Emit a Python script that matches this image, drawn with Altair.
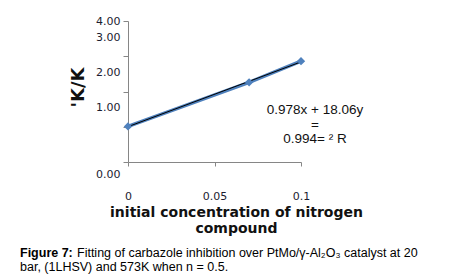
import altair as alt
import pandas as pd

# data
conc = [0.0, 0.07, 0.1]
ratio = [1.01, 2.26, 2.86]
y_ticks = [0, 1, 2, 3, 4]
x_ticks = [0, 0.05, 0.1]
x_title = ["initial concentration of nitrogen", "compound"]
y_title = "'K/K"
eq_text = "0.978x + 18.06y\n=\n0.994= \u00b2 R"
cap_bold = "Figure 7:"
cap_line1 = "Fitting of carbazole inhibition over PtMo/\u03b3-Al\u2082O\u2083 catalyst at 20"
cap_line2 = "bar, (1LHSV) and 573K when n = 0.5."

df = pd.DataFrame({"x": conc, "y": ratio})

BLUE = "#4f81bd"
LBL = "#1c1c30"

xs = alt.Scale(domain=[0, 0.1], nice=False, zero=False)
ys = alt.Scale(domain=[0, 4], nice=False)

x_axis = alt.Axis(
    values=x_ticks, format="~g", grid=False, domainColor="#868686", tickColor="#868686",
    tickSize=4, labelPadding=24, labelFont="DejaVu Sans", labelFontSize=11, labelColor=LBL,
    labelFlush=False, labelOverlap=False,
    title=x_title, titleFont="DejaVu Sans", titleFontSize=14, titleFontWeight="bold",
    titleColor="#111111", titleX=108, titleY=50, titleBaseline="middle", titleLineHeight=16,
    titleAnchor="start", titleAlign="center",
)
y_axis = alt.Axis(
    values=y_ticks, format=".2f", grid=False, domainColor="#868686", tickColor="#868686",
    tickSize=5, labelPadding=3, labelFont="DejaVu Sans", labelFontSize=11, labelColor=LBL,
    labelFlush=False, labelOverlap=False, labelBound=False,
    labelOffset={"condition": [{"test": "datum.value == 4", "value": 0},
                               {"test": "datum.value == 0", "value": 12}],
                 "value": -19},
    title=y_title, titleFont="DejaVu Sans", titleFontSize=18, titleFontWeight="bold",
    titleColor="#111111", titleX=-50, titleY=66, titleAngle=270, titleBaseline="middle",
    titleAlign="center", titleAnchor="start",
)

X = alt.X("x:Q", scale=xs, axis=x_axis)
Y = alt.Y("y:Q", scale=ys, axis=y_axis)

base = alt.Chart(df)
line = base.mark_line(color=BLUE, strokeWidth=3.6).encode(x=X, y=Y)
trend = base.transform_regression("x", "y").mark_line(color="#000000", strokeWidth=1).encode(x=X, y=Y)
pts = base.mark_point(shape="diamond", filled=True, color=BLUE, size=70, opacity=1).encode(x=X, y=Y)

eq = alt.Chart(pd.DataFrame({"t": [eq_text]})).mark_text(
    font="Liberation Sans", fontSize=13.5, color="#111111", align="center",
    baseline="middle", lineBreak="\n", lineHeight=14.5
).encode(x=alt.value(187), y=alt.value(89), text="t:N")

cap1 = alt.Chart(pd.DataFrame({"t": [cap_bold]})).mark_text(
    font="Liberation Sans", fontSize=12.5, fontWeight="bold", color="#000000", align="left", baseline="middle"
).encode(x=alt.value(-108), y=alt.value(232), text="t:N")
cap2 = alt.Chart(pd.DataFrame({"t": [cap_line1]})).mark_text(
    font="Liberation Sans", fontSize=12.5, color="#000000", align="left", baseline="middle"
).encode(x=alt.value(-51), y=alt.value(232), text="t:N")
cap3 = alt.Chart(pd.DataFrame({"t": [cap_line2]})).mark_text(
    font="Liberation Sans", fontSize=12.5, color="#000000", align="left", baseline="middle"
).encode(x=alt.value(-108), y=alt.value(246), text="t:N")

chart = alt.layer(line, trend, pts, eq, cap1, cap2, cap3).properties(
    width=173, height=141,
    autosize=alt.AutoSizeParams(type="none"),
    padding={"left": 120, "top": 13, "right": 125, "bottom": 112},
).configure(background="white").configure_view(stroke=None)

chart.save("out.html", embed_options={"renderer": "svg", "actions": False})
